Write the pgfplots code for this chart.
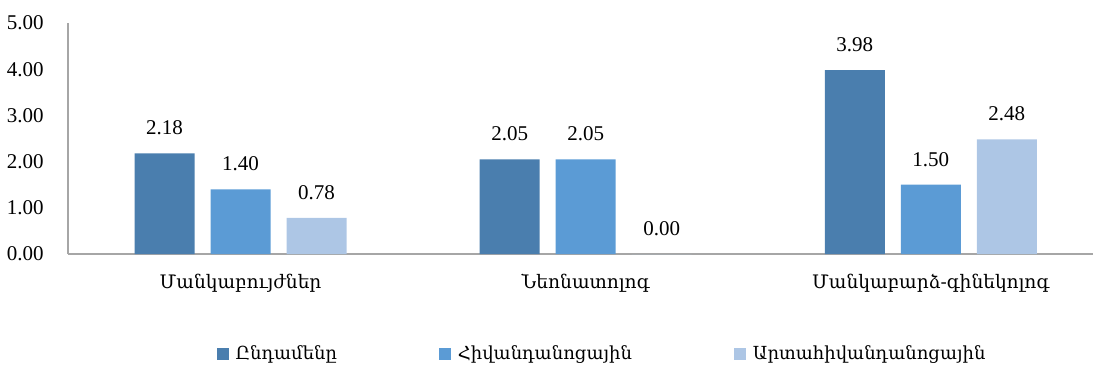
\documentclass[border=0pt]{standalone}
\usepackage{fontspec}
\setmainfont{Liberation Serif}
\newfontfamily\armfont{DejaVu Serif}
\usepackage{pgfplots}
\pgfplotsset{compat=1.18}
\definecolor{c1}{HTML}{4A7EAE}
\definecolor{c2}{HTML}{5B9BD5}
\definecolor{c3}{HTML}{ADC6E5}
\definecolor{axgray}{HTML}{A6A6A6}
\begin{document}
\fontsize{21pt}{24pt}\selectfont
\begin{tikzpicture}
\path[use as bounding box] (-68pt,-114pt) rectangle (1026pt,254pt);
\begin{axis}[
  scale only axis, width=1025pt, height=231pt,
  xmin=-0.5, xmax=2.47, ymin=0, ymax=5,
  ybar=16pt, bar width=60pt,
  axis x line=bottom, axis y line=left,
  axis line style={-, draw=axgray, line width=1.3pt},
  xtick={0,1,2},
  xticklabels={Մանկաբույժներ, Նեոնատոլոգ, Մանկաբարձ-գինեկոլոգ},
  xticklabel style={font=\armfont\fontsize{18.6pt}{22pt}\selectfont, yshift=-11pt},
  ytick={0,1,2,3,4,5},
  yticklabel style={font=\fontsize{21pt}{24pt}\selectfont, xshift=-15pt},
  tick style={draw=none},
  /pgf/number format/assume math mode=true,
  /pgf/number format/.cd, fixed, fixed zerofill, precision=2, /pgfplots/.cd,
  nodes near coords,
  nodes near coords style={font=\fontsize{21pt}{24pt}\selectfont, /pgf/number format/fixed, /pgf/number format/fixed zerofill, /pgf/number format/precision=2, /pgf/number format/assume math mode=true, yshift=11pt},
  legend style={at={(0.521,-0.433)}, anchor=center, draw=none, legend columns=3,
    font=\armfont\fontsize{18pt}{21pt}\selectfont,
    /tikz/every odd column/.append style={column sep=5pt},
    /tikz/every even column/.append style={column sep=100pt}},
  legend image code/.code={\fill[#1] (0pt,-6pt) rectangle (12pt,6pt);},
]
\addplot[draw=none, fill=c1] coordinates {(0,2.18) (1,2.05) (2,3.98)};
\addplot[draw=none, fill=c2] coordinates {(0,1.40) (1,2.05) (2,1.50)};
\addplot[draw=none, fill=c3] coordinates {(0,0.78) (1,0.00) (2,2.48)};
\legend{Ընդամենը, Հիվանդանոցային, Արտահիվանդանոցային}
\end{axis}
\end{tikzpicture}
\end{document}
